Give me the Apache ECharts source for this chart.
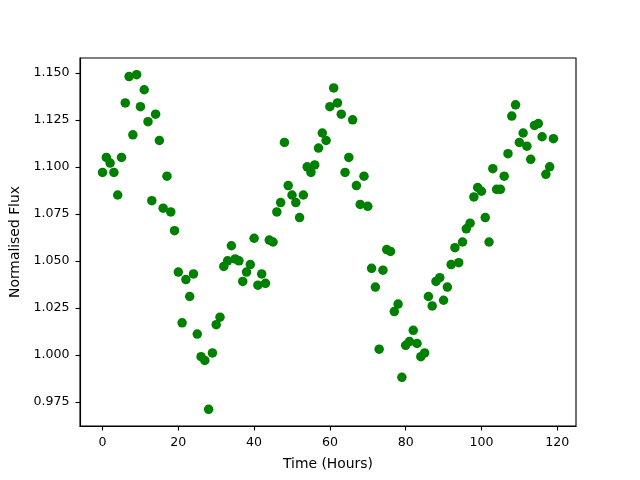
<!DOCTYPE html>
<html>
<head>
<meta charset="utf-8">
<script src="https://cdn.jsdelivr.net/npm/echarts@6/dist/echarts.min.js"></script>
<style>html,body{margin:0;padding:0;background:#fff}#chart{width:640px;height:480px}</style>
</head>
<body>
<div id="chart"></div>
<script>
const timeHours = [];
for (let i = 0; i < 120; i++) timeHours.push(i);
const flux = [
1.097,1.105,1.102,1.097,1.085,1.105,1.134,1.148,1.117,1.149,
1.132,1.141,1.124,1.082,1.128,1.114,1.078,1.095,1.076,1.066,
1.044,1.017,1.040,1.031,1.043,1.011,0.999,0.997,0.971,1.001,
1.016,1.020,1.047,1.050,1.058,1.051,1.050,1.039,1.044,1.048,
1.062,1.037,1.043,1.038,1.061,1.060,1.076,1.081,1.113,1.090,
1.085,1.081,1.073,1.085,1.100,1.097,1.101,1.110,1.118,1.114,
1.132,1.142,1.134,1.128,1.097,1.105,1.125,1.090,1.080,1.095,
1.079,1.046,1.036,1.003,1.045,1.056,1.055,1.023,1.027,0.988,
1.005,1.007,1.013,1.006,0.999,1.001,1.031,1.026,1.039,1.041,
1.029,1.036,1.048,1.057,1.049,1.060,1.067,1.070,1.084,1.089,
1.087,1.073,1.060,1.099,1.088,1.088,1.095,1.107,1.127,1.133,
1.113,1.118,1.111,1.104,1.122,1.123,1.116,1.096,1.100,1.115
];
const xTicks = [0, 20, 40, 60, 80, 100, 120];
const yTicks = [0.975, 1.000, 1.025, 1.050, 1.075, 1.100, 1.125, 1.150];

const xMin = -5.95, xMax = 124.95;
const yLo = Math.min(...flux), yHi = Math.max(...flux);
const yPad = (yHi - yLo) * 0.05;

const chart = echarts.init(document.getElementById('chart'), null, {renderer: 'canvas'});
const font = 'DejaVu Sans';
chart.setOption({
  animation: false,
  backgroundColor: '#ffffff',
  grid: {left: 80, right: 64, top: 58, bottom: 54, show: true, borderColor: '#000', borderWidth: 1.1, backgroundColor: 'transparent'},
  xAxis: {
    type: 'value', min: xMin, max: xMax,
    name: 'Time (Hours)', nameLocation: 'middle', nameGap: 31,
    nameTextStyle: {fontFamily: font, fontSize: 13.9, color: '#000'},
    axisLine: {show: true, onZero: false, lineStyle: {color: '#000', width: 1.1}},
    axisTick: {show: true, inside: false, length: 4.5, lineStyle: {color: '#000', width: 1.1}, customValues: xTicks},
    axisLabel: {show: true, margin: 10, fontFamily: font, fontSize: 12.6, color: '#000', customValues: xTicks, formatter: v => String(Math.round(v))},
    splitLine: {show: false}
  },
  yAxis: {
    type: 'value', min: yLo - yPad, max: yHi + yPad,
    name: 'Normalised Flux', nameLocation: 'middle', nameGap: 56, nameRotate: 90,
    nameTextStyle: {fontFamily: font, fontSize: 13.9, color: '#000'},
    axisLine: {show: true, onZero: false, lineStyle: {color: '#000', width: 1.1}},
    axisTick: {show: true, inside: false, length: 4.5, lineStyle: {color: '#000', width: 1.1}, customValues: yTicks},
    axisLabel: {show: true, margin: 10.5, fontFamily: font, fontSize: 12.6, color: '#000', customValues: yTicks, formatter: v => v.toFixed(3)},
    splitLine: {show: false}
  },
  series: [{
    type: 'scatter',
    data: timeHours.map((t, i) => [t, flux[i]]),
    symbol: 'circle', symbolSize: 9.5,
    itemStyle: {color: '#008000', opacity: 1}
  }]
});
</script>
</body>
</html>
